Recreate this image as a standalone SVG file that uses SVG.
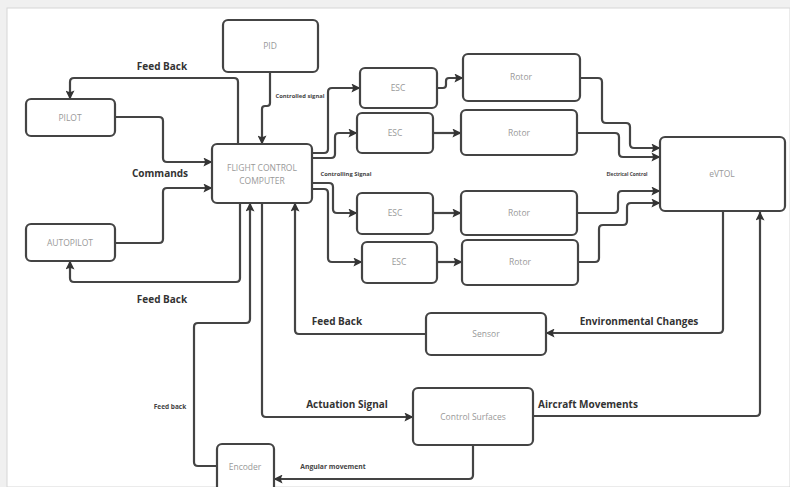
<svg xmlns="http://www.w3.org/2000/svg" width="790" height="487" viewBox="0 0 790 487">
<defs>
<marker id="arr" viewBox="0 0 10 10" refX="9.5" refY="5" markerWidth="9" markerHeight="9" markerUnits="userSpaceOnUse" orient="auto">
<path d="M0,0 L10,5 L0,10 L2,5 z" fill="#333"/>
</marker>
<style>
.node rect{fill:#fff;stroke:#444;stroke-width:2.2}
.node text{font-family:"Open Sans","Noto Sans",sans-serif;font-size:8.5px;fill:#999;text-anchor:middle}
.conn path{fill:none;stroke:#444;stroke-width:2.2;stroke-linejoin:round}
.arrow{marker-end:url(#arr)}
.lbl{font-family:"Open Sans","Noto Sans",sans-serif;font-weight:bold;font-size:10px;fill:#333;text-anchor:middle}
.sm{font-family:"Open Sans","Noto Sans",sans-serif;font-weight:bold;font-size:5.8px;fill:#444;text-anchor:middle}
</style>
</defs>
<rect x="0" y="0" width="790" height="487" fill="#f0f0f0"/>
<rect x="7" y="8" width="783" height="479" fill="#fff" stroke="#d6d6d6" stroke-width="1"/>

<g class="conn">
<path class="arrow" d="M238,144 V82 Q238,78 234,78 H74 Q70,78 70,82 V99"/>
<path class="arrow" d="M115,117 H159 Q163,117 163,121 V158 Q163,162 167,162 H212"/>
<path class="arrow" d="M115,243 H159 Q163,243 163,239 V192 Q163,188 167,188 H212"/>
<path class="arrow" d="M240,203 V278 Q240,282 236,282 H74 Q70,282 70,278 V261"/>
<path class="arrow" d="M270,72 V103 Q270,106 267,106 H265 Q262,106 262,109 V144"/>
<path class="arrow" d="M312,153 H324 Q328,153 328,149 V92 Q328,88 332,88 H360"/>
<path class="arrow" d="M312,158 H331 Q335,158 335,154 V137 Q335,133 339,133 H357"/>
<path class="arrow" d="M312,183 H329 Q333,183 333,187 V209 Q333,213 337,213 H357"/>
<path class="arrow" d="M312,189 H324 Q328,189 328,193 V258 Q328,262 332,262 H362"/>
<path class="arrow" d="M437,88 H443 Q446,88 446,85 V81 Q446,78 449,78 H463"/>
<path class="arrow" d="M433,133 H461"/>
<path class="arrow" d="M433,213 H461"/>
<path class="arrow" d="M437,262 H462"/>
<path class="arrow" d="M580,78 H598 Q602,78 602,82 V119 Q602,123 606,123 H626 Q630,123 630,127 V144 Q630,148 634,148 H660"/>
<path class="arrow" d="M577,133 H615 Q619,133 619,137 V153 Q619,157 623,157 H660"/>
<path class="arrow" d="M577,213 H614 Q618,213 618,209 V195 Q618,191 622,191 H660"/>
<path class="arrow" d="M578,262 H595 Q599,262 599,258 V229 Q599,225 603,225 H623 Q627,225 627,221 V207 Q627,203 631,203 H660"/>
<path class="arrow" d="M723,212 V329 Q723,333 719,333 H546"/>
<path class="arrow" d="M426,334 H299 Q295,334 295,330 V203"/>
<path class="arrow" d="M262,203 V413 Q262,417 266,417 H413"/>
<path class="arrow" d="M533,416 H756 Q760,416 760,412 V212"/>
<path class="arrow" d="M473,445 V475 Q473,479 469,479 H274"/>
<path class="arrow" d="M217,466 H198 Q194,466 194,462 V327 Q194,323 198,323 H246 Q250,323 250,319 V203"/>
</g>

<g id="pid" class="node"><rect x="223" y="20" width="95" height="52" rx="5"/><text x="270" y="49">PID</text></g>
<g id="pilot" class="node"><rect x="26" y="99" width="89" height="37" rx="5"/><text x="70" y="121">PILOT</text></g>
<g id="fcc" class="node"><rect x="212" y="144" width="100" height="59" rx="5"/><text x="262" y="171">FLIGHT CONTROL</text><text x="262" y="184">COMPUTER</text></g>
<g id="autopilot" class="node"><rect x="26" y="224" width="89" height="37" rx="5"/><text x="70" y="246">AUTOPILOT</text></g>
<g id="esc1" class="node"><rect x="360" y="68" width="77" height="40" rx="5"/><text x="398" y="91">ESC</text></g>
<g id="esc2" class="node"><rect x="357" y="113" width="76" height="40" rx="5"/><text x="395" y="136">ESC</text></g>
<g id="esc3" class="node"><rect x="357" y="193" width="76" height="41" rx="5"/><text x="395" y="216">ESC</text></g>
<g id="esc4" class="node"><rect x="362" y="242" width="75" height="41" rx="5"/><text x="399" y="265">ESC</text></g>
<g id="rotor1" class="node"><rect x="463" y="54" width="117" height="47" rx="5"/><text x="521" y="80">Rotor</text></g>
<g id="rotor2" class="node"><rect x="461" y="110" width="116" height="45" rx="5"/><text x="519" y="136">Rotor</text></g>
<g id="rotor3" class="node"><rect x="461" y="191" width="116" height="44" rx="5"/><text x="519" y="216">Rotor</text></g>
<g id="rotor4" class="node"><rect x="462" y="240" width="116" height="45" rx="5"/><text x="520" y="265">Rotor</text></g>
<g id="evtol" class="node"><rect x="660" y="137" width="125" height="74" rx="5"/><text x="722" y="177">eVTOL</text></g>
<g id="sensor" class="node"><rect x="426" y="313" width="120" height="42" rx="5"/><text x="486" y="337">Sensor</text></g>
<g id="control-surfaces" class="node"><rect x="413" y="388" width="120" height="57" rx="5"/><text x="473" y="420">Control Surfaces</text></g>
<g id="encoder" class="node"><rect x="217" y="444" width="57" height="48" rx="5"/><text x="245" y="470">Encoder</text></g>

<g id="labels">
<text class="lbl" x="162" y="70">Feed Back</text>
<text class="lbl" x="160" y="177">Commands</text>
<text class="lbl" x="162" y="303">Feed Back</text>
<text class="lbl" x="337" y="325">Feed Back</text>
<text class="lbl" x="347" y="408">Actuation Signal</text>
<text class="lbl" x="639" y="325">Environmental Changes</text>
<text class="lbl" x="588" y="408">Aircraft Movements</text>
<text class="sm" x="300" y="98">Controlled signal</text>
<text class="sm" x="346" y="176">Controlling Signal</text>
<text class="sm" x="627" y="176" style="font-size:4.8px">Electrical Control</text>
<text class="sm" x="170" y="409" style="font-size:6.5px">Feed back</text>
<text class="sm" x="333" y="469" style="font-size:6.8px">Angular movement</text>
</g>
</svg>
